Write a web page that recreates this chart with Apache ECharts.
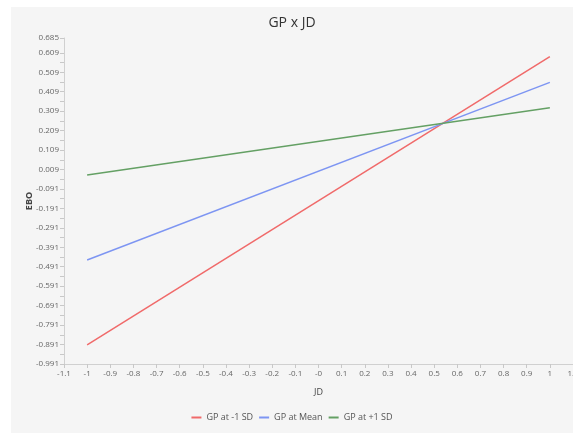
<!DOCTYPE html>
<html>
<head>
<meta charset="utf-8">
<script src="https://cdn.jsdelivr.net/npm/echarts@6/dist/echarts.min.js"></script>
<style>
  html, body { margin: 0; padding: 0; background: #fff; overflow: hidden; }
  #main { position: absolute; left: 11px; top: 7px; width: 562px; height: 426px; background: #f5f5f5; }
</style>
</head>
<body>
<div id="main"></div>
<script>
// 数据
var jdValues = [-1, 1];
var lowSD = [-0.893, 0.589];
var meanSD = [-0.456, 0.457];
var highSD = [-0.019, 0.327];
var seriesNames = ['GP at -1 SD', 'GP at Mean', 'GP at +1 SD'];
var yTicks = [-0.991, -0.891, -0.791, -0.691, -0.591, -0.491, -0.391, -0.291, -0.191, -0.091,
              0.009, 0.109, 0.209, 0.309, 0.409, 0.509, 0.609, 0.685];
var yMinorTicks = [-0.941, -0.841, -0.741, -0.641, -0.541, -0.441, -0.341, -0.241, -0.141, -0.041,
                   0.059, 0.159, 0.259, 0.359, 0.459, 0.559];

function toPoints(ys){
    var pts = [];
    for(var i=0; i<jdValues.length; i++){
        pts.push([jdValues[i], ys[i]]);
    }
    return pts;
}

var myChart = echarts.init(document.getElementById('main'));
var fontFamily = '"Open Sans", "Noto Sans", sans-serif';

option = {
    backgroundColor: '#f5f5f5',
    textStyle: { fontFamily: fontFamily },
    title: {
        text: 'GP x JD',
        left: 'center',
        top: 4,
        textStyle: { fontSize: 14, fontWeight: 'normal', color: '#333', fontFamily: fontFamily }
    },
    legend: {
        bottom: 6,
        left: 'center',
        itemWidth: 10,
        itemHeight: 2,
        itemGap: 6,
        icon: 'rect',
        textStyle: { fontSize: 9, color: '#555', fontFamily: fontFamily },
        data: seriesNames
    },
    grid: {
        left: 53,
        right: 0,
        top: 31,
        bottom: 69,
        outerBoundsMode: 'none'
    },
    xAxis: {
        type: 'value',
        min: -1.1,
        max: 1.1,
        interval: 0.1,
        name: 'JD',
        nameLocation: 'middle',
        nameGap: 24,
        nameMoveOverlap: false,
        nameTextStyle: { fontSize: 9, color: '#444' },
        splitLine: { show: false },
        axisLine: { show: true, onZero: false, lineStyle: { color: '#d0d0d0' } },
        axisTick: { show: true, length: 4, lineStyle: { color: '#c8c8c8' } },
        axisLabel: {
            fontSize: 8,
            color: '#666',
            margin: 6,
            showMaxLabel: true,
            formatter: function(v){
                if(Math.abs(v) < 1e-9) return '-0';
                return String(Math.round(v*10)/10);
            }
        }
    },
    yAxis: {
        type: 'value',
        min: -0.991,
        max: 0.685,
        name: 'EBO',
        nameLocation: 'middle',
        nameGap: 30,
        nameMoveOverlap: false,
        nameTextStyle: { fontSize: 9, color: '#444', fontWeight: 'bold' },
        splitLine: { show: false },
        axisLine: { show: true, onZero: false, lineStyle: { color: '#d0d0d0' } },
        axisTick: {
            show: true,
            length: 4,
            customValues: yTicks.concat(yMinorTicks),
            lineStyle: { color: '#c8c8c8' }
        },
        axisLabel: {
            fontSize: 8,
            color: '#666',
            margin: 5,
            customValues: yTicks,
            formatter: function(v){ return v.toFixed(3); }
        }
    },
    series: [{
        name: seriesNames[0],
        type: 'line',
        data: toPoints(lowSD),
        symbol: 'none',
        color: '#f06a6a',
        lineStyle: { width: 1.5 }
    },{
        name: seriesNames[1],
        type: 'line',
        data: toPoints(meanSD),
        symbol: 'none',
        color: '#7d95f2',
        lineStyle: { width: 1.5 }
    },{
        name: seriesNames[2],
        type: 'line',
        data: toPoints(highSD),
        symbol: 'none',
        color: '#64a064',
        lineStyle: { width: 1.5 }
    }]
};
myChart.setOption(option, true);
</script>
</body>
</html>
